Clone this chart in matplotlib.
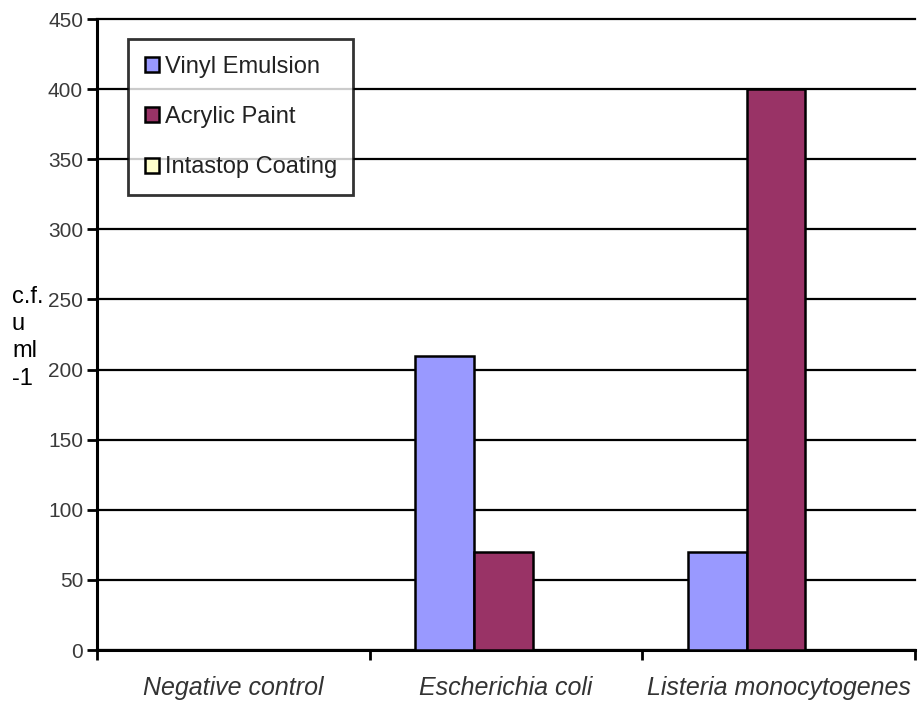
import numpy as np
import matplotlib.pyplot as plt

plt.rcParams['font.family'] = ['Liberation Sans', 'DejaVu Sans']

categories = ['Negative control', 'Escherichia coli', 'Listeria monocytogenes']
series = ['Vinyl Emulsion', 'Acrylic Paint', 'Intastop Coating']
vinyl = [0, 210, 70]
acrylic = [0, 70, 400]
intastop = [0, 0, 0]
colors = ['#9999FF', '#993366', '#FFFFCC']

fig = plt.figure(figsize=(9.2, 7.04), dpi=100)
ax = fig.add_axes([0.1054, 0.0767, 0.8892, 0.8963])

x = np.arange(len(categories)) + 0.5
w = 0.215
for i, (name, vals) in enumerate(zip(series, [vinyl, acrylic, intastop])):
    ax.bar(x + (i - 1) * w - 0.01, vals, w, color=colors[i], edgecolor='black',
           linewidth=1.8, label=name, zorder=3)

ax.set_xlim(0, 3)
ax.set_ylim(0, 450)
ax.set_yticks(np.arange(0, 451, 50))
ax.yaxis.grid(True, color='black', linewidth=1.6, zorder=0)
for gl in ax.get_ygridlines():
    gl.set_clip_on(False)
ax.set_axisbelow(True)

# category ticks sit on the boundaries, labels in the middle
ax.set_xticks([0, 1, 2, 3])
ax.set_xticklabels([])
ax.set_xticks(x, minor=True)
ax.set_xticklabels(categories, minor=True, style='italic', fontsize=18, color='#333333')
ax.tick_params(axis='x', which='minor', length=0, pad=19)
ax.tick_params(axis='x', which='major', length=7, width=2, direction='out')
ax.tick_params(axis='y', length=7, width=2, labelsize=15, labelcolor='#3a3a3a', pad=3)

for s in ['top', 'right']:
    ax.spines[s].set_visible(False)
for s in ['left', 'bottom']:
    ax.spines[s].set_linewidth(2.2)

fig.text(0.013, 0.52, 'c.f.\nu\nml\n-1', fontsize=17, ha='left', va='center',
         linespacing=1.3)

leg = ax.legend(loc='upper left', bbox_to_anchor=(0.038, 0.968), fontsize=17,
                frameon=True, fancybox=False, edgecolor='black',
                handlelength=0.6, handleheight=0.6, handletextpad=0.25,
                labelspacing=1.2, borderpad=0.7, borderaxespad=0)
leg.get_frame().set_linewidth(2)
for t in leg.get_texts():
    t.set_color('#222222')

fig.savefig('out.png')
